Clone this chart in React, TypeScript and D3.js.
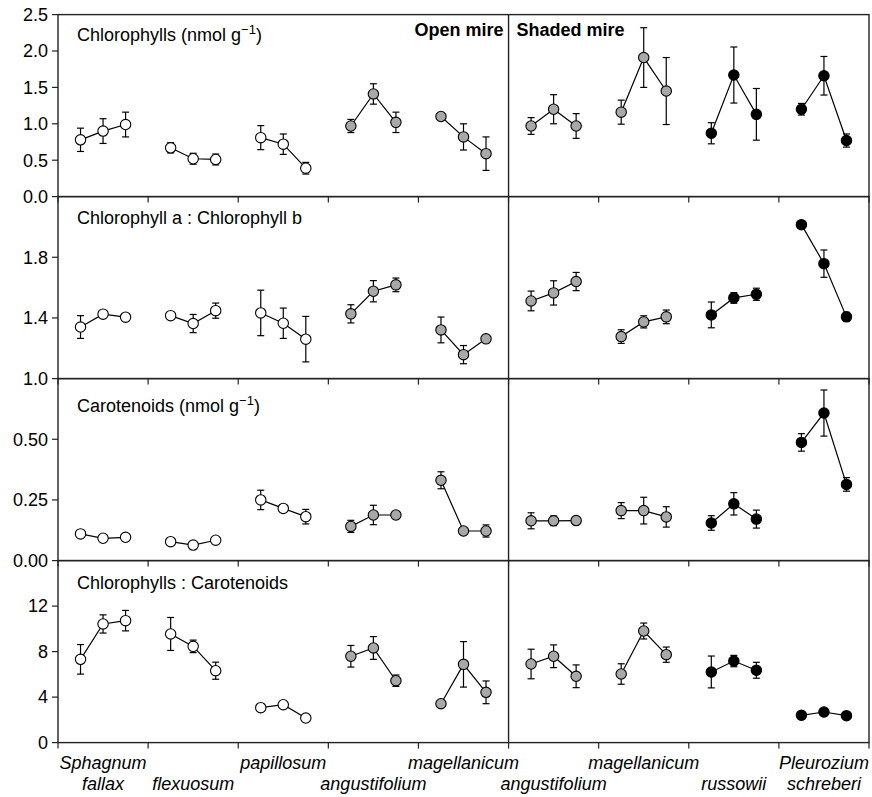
import React from 'react';
import * as d3 from 'd3';

const groupsTop = ['Sphagnum', '', 'papillosum', '', 'magellanicum', '', 'magellanicum', '', 'Pleurozium'];
const groupsBottom = ['fallax', 'flexuosum', '', 'angustifolium', '', 'angustifolium', '', 'russowii', 'schreberi'];
const groupFill = ['#ffffff', '#ffffff', '#ffffff', '#a8a8a8', '#a8a8a8', '#a8a8a8', '#a8a8a8', '#000000', '#000000'];

// three points per group, 27 per panel
const chlMean = [0.78, 0.90, 0.99, 0.67, 0.52, 0.51, 0.81, 0.72, 0.39, 0.97, 1.41, 1.02, 1.10, 0.82, 0.59, 0.97, 1.20, 0.97, 1.16, 1.91, 1.45, 0.87, 1.67, 1.13, 1.20, 1.66, 0.77];
const chlErr = [0.16, 0.17, 0.17, 0.07, 0.075, 0.075, 0.165, 0.14, 0.08, 0.09, 0.14, 0.14, 0.03, 0.18, 0.23, 0.115, 0.2, 0.17, 0.165, 0.41, 0.46, 0.145, 0.385, 0.355, 0.08, 0.265, 0.09];

const abMean = [1.34, 1.425, 1.405, 1.415, 1.363, 1.448, 1.433, 1.365, 1.26, 1.427, 1.576, 1.618, 1.321, 1.158, 1.262, 1.512, 1.565, 1.64, 1.277, 1.374, 1.407, 1.42, 1.532, 1.556, 2.015, 1.758, 1.407];
const abErr = [0.075, 0.01, 0.01, 0.01, 0.06, 0.05, 0.15, 0.10, 0.15, 0.06, 0.07, 0.045, 0.085, 0.06, 0.01, 0.065, 0.08, 0.06, 0.045, 0.04, 0.045, 0.085, 0.035, 0.04, 0.01, 0.09, 0.03];

const carMean = [0.11, 0.092, 0.096, 0.078, 0.064, 0.084, 0.25, 0.215, 0.181, 0.141, 0.188, 0.188, 0.331, 0.122, 0.122, 0.164, 0.164, 0.165, 0.206, 0.206, 0.18, 0.155, 0.234, 0.171, 0.487, 0.608, 0.314];
const carErr = [0.005, 0.01, 0.005, 0.005, 0.005, 0.005, 0.04, 0.015, 0.03, 0.025, 0.04, 0.005, 0.035, 0.01, 0.025, 0.033, 0.02, 0.005, 0.033, 0.055, 0.042, 0.03, 0.046, 0.037, 0.036, 0.095, 0.028];

const ratioMean = [7.32, 10.43, 10.72, 9.55, 8.46, 6.32, 3.07, 3.33, 2.16, 7.59, 8.32, 5.44, 3.42, 6.88, 4.42, 6.91, 7.59, 5.83, 6.03, 9.81, 7.73, 6.21, 7.17, 6.36, 2.4, 2.69, 2.37];
const ratioErr = [1.3, 0.8, 0.9, 1.45, 0.55, 0.75, 0.1, 0.1, 0.1, 0.95, 1.0, 0.5, 0.1, 2.0, 1.0, 1.3, 1.0, 1.0, 0.9, 0.7, 0.67, 1.4, 0.5, 0.7, 0.1, 0.1, 0.1];

const chlTicks = [0, 0.5, 1, 1.5, 2, 2.5];
const abTicks = [1.0, 1.4, 1.8];
const carTicks = [0, 0.25, 0.5];
const ratioTicks = [0, 4, 8, 12];

const panels = [
  { title: 'Chlorophylls (nmol g', sup: '\u22121', tail: ')', mean: chlMean, err: chlErr, domain: [0, 2.5], ticks: chlTicks, fmt: d3.format('.1f'), titleDy: 26 },
  { title: 'Chlorophyll a : Chlorophyll b', sup: '', tail: '', mean: abMean, err: abErr, domain: [1.0, 2.2], ticks: abTicks, fmt: d3.format('.1f'), titleDy: 27 },
  { title: 'Carotenoids (nmol g', sup: '\u22121', tail: ')', mean: carMean, err: carErr, domain: [0, 0.75], ticks: carTicks, fmt: d3.format('.2f'), titleDy: 33 },
  { title: 'Chlorophylls : Carotenoids', sup: '', tail: '', mean: ratioMean, err: ratioErr, domain: [0, 16], ticks: ratioTicks, fmt: d3.format('d'), titleDy: 28 },
];

const W = 872;
const H = 797;
const left = 58;
const right = 869;
const top = 14.6;
const panelH = 182;
const font = '"Liberation Sans", Arial, Helvetica, sans-serif';

const App: React.FC = () => {
  const x = d3.scaleLinear().domain([0, groupFill.length]).range([left, right]);
  const pos = [0.25, 0.5, 0.75];
  const line = d3.line<[number, number]>();

  return (
    <svg width={W} height={H} style={{ position: 'absolute', left: 0, top: 0 }} fontFamily={font}>
      <rect width={W} height={H} fill="#fff" />
      {panels.map((p, pi) => {
        const y0 = top + pi * panelH;
        const y = d3.scaleLinear().domain(p.domain).range([y0 + panelH, y0]);
        return (
          <g key={pi}>
            {/* groups: error bars, connecting line, markers */}
            {groupFill.map((fill, g) => {
              const pts: [number, number][] = pos.map((o, k) => [x(g + o), y(p.mean[g * 3 + k])]);
              return (
                <g key={g}>
                  {pos.map((o, k) => {
                    const v = p.mean[g * 3 + k];
                    const e = p.err[g * 3 + k];
                    const cx = x(g + o);
                    return (
                      <g key={k} stroke="#000" strokeWidth={1.2}>
                        <line x1={cx} x2={cx} y1={y(v - e)} y2={y(v + e)} />
                        <line x1={cx - 3.5} x2={cx + 3.5} y1={y(v - e)} y2={y(v - e)} />
                        <line x1={cx - 3.5} x2={cx + 3.5} y1={y(v + e)} y2={y(v + e)} />
                      </g>
                    );
                  })}
                  <path d={line(pts) || ''} fill="none" stroke="#000" strokeWidth={1.2} />
                  {pts.map((pt, k) => (
                    <circle key={k} cx={pt[0]} cy={pt[1]} r={5.2} fill={fill} stroke="#000" strokeWidth={1.1} />
                  ))}
                </g>
              );
            })}
            <rect x={left} y={y0} width={right - left} height={panelH} fill="none" stroke="#222" strokeWidth={1.4} />
            {p.ticks.map((t) => (
              <g key={t}>
                <line x1={left - 6} x2={left} y1={y(t)} y2={y(t)} stroke="#222" strokeWidth={1.2} />
                <text x={left - 10} y={y(t)} dy="0.35em" textAnchor="end" fontSize={18} fill="#000">{p.fmt(t)}</text>
              </g>
            ))}
            {d3.range(groupFill.length + 1).map((g) => (
              <line key={g} x1={x(g)} x2={x(g)} y1={y0 + panelH} y2={y0 + panelH + 6} stroke="#222" strokeWidth={1.2} />
            ))}
            <text x={77} y={y0 + p.titleDy} fontSize={18} fill="#000">
              {p.title}
              {p.sup && <tspan dy={-7} fontSize={13}>{p.sup}</tspan>}
              {p.sup && <tspan dy={7}>{p.tail}</tspan>}
            </text>
          </g>
        );
      })}
      <line x1={x(5)} x2={x(5)} y1={top} y2={top + 4 * panelH} stroke="#222" strokeWidth={1.4} />
      <text x={x(5) - 5} y={36} textAnchor="end" fontSize={18} fontWeight="bold" fill="#000">Open mire</text>
      <text x={x(5) + 8} y={36} fontSize={18} fontWeight="bold" fill="#000">Shaded mire</text>
      {groupsTop.map((s, g) => s && (
        <text key={'t' + g} x={x(g + 0.5)} y={769} textAnchor="middle" fontSize={18} fontStyle="italic" fill="#000">{s}</text>
      ))}
      {groupsBottom.map((s, g) => s && (
        <text key={'b' + g} x={x(g + 0.5)} y={790} textAnchor="middle" fontSize={18} fontStyle="italic" fill="#000">{s}</text>
      ))}
    </svg>
  );
};

export default App;
